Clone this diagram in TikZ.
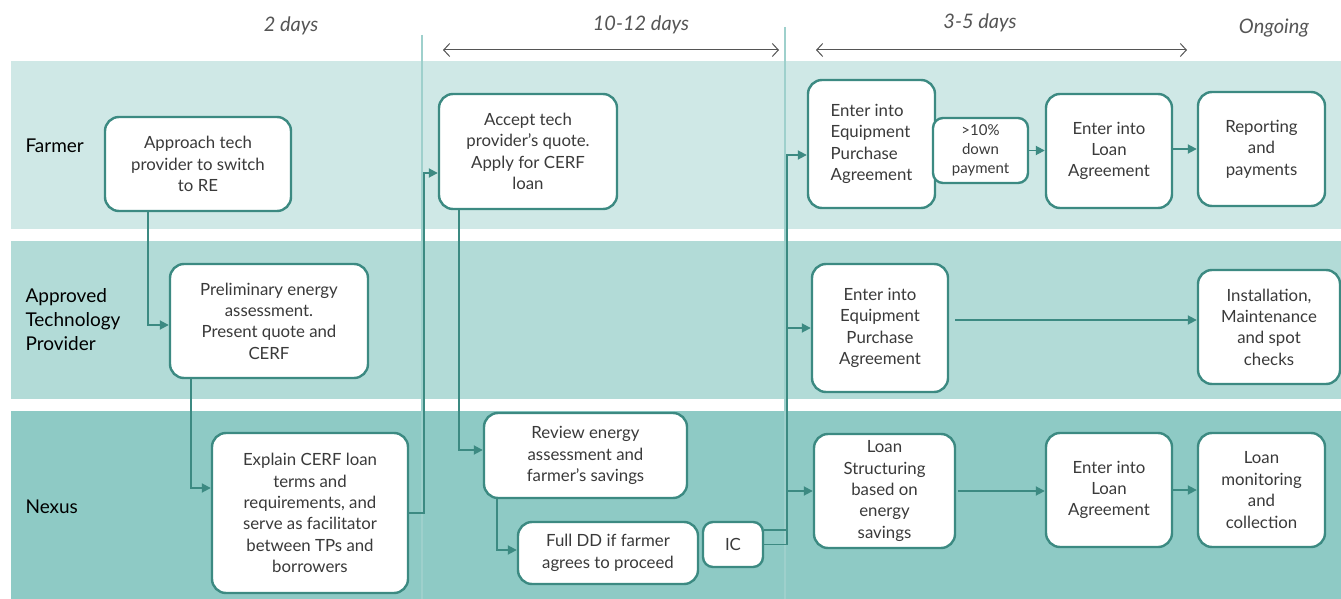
\documentclass[tikz,border=0pt]{standalone}
\usepackage{fontspec}
\setmainfont{Lato}
\usetikzlibrary{arrows.meta,calc}
\definecolor{bandA}{HTML}{CFE8E6}
\definecolor{bandB}{HTML}{B2DBD7}
\definecolor{bandC}{HTML}{8ECAC5}
\definecolor{teal}{HTML}{3C8A82}
\definecolor{divider}{HTML}{9ED0CC}
\definecolor{txt}{HTML}{3A3A3A}
\definecolor{hdr}{HTML}{555555}
\tikzset{
  box/.style={draw=teal, line width=2.4pt, fill=white, rounded corners=14pt,
    inner sep=0pt, align=center, text=txt, font=\fontsize{16.8}{21.4}\selectfont},
  smallbox/.style={box, rounded corners=10pt, font=\fontsize{15}{19}\selectfont},
  conn/.style={draw=teal, line width=1.8pt, -{Triangle[length=9pt,width=9pt]}},
  plain/.style={draw=teal, line width=1.8pt},
  lane/.style={anchor=west, align=left, text=black, font=\fontsize{19}{24}\selectfont},
  hdrtext/.style={text=hdr, font=\fontsize{20}{22}\selectfont\itshape},
  span/.style={draw=hdr, line width=1pt, {Straight Barb[length=6pt,width=13pt]}-{Straight Barb[length=6pt,width=13pt]}}
}
\begin{document}
\begin{tikzpicture}[x=1pt,y=-1pt]
\useasboundingbox (0,0) rectangle (1341,599);
\fill[white] (0,0) rectangle (1341,599);
% bands
\fill[bandA] (11,61) rectangle (1341,229);
\fill[bandB] (11,241) rectangle (1341,399);
\fill[bandC] (11,411) rectangle (1341,599);
% dividers
\draw[divider, line width=1.5pt] (422,35) -- (422,599);
\draw[divider, line width=1.5pt] (785,27) -- (785,599);
% header
\node[hdrtext] (h1) at (291,26) {2 days};
\node[hdrtext] (h2) at (641,25) {10-12 days};
\node[hdrtext] (h3) at (980,23) {3-5 days};
\node[hdrtext] (h4) at (1274,28) {Ongoing};
\coordinate (s1a) at (443,50); \coordinate (s1b) at (779,50);
\coordinate (s2a) at (816,50); \coordinate (s2b) at (1187,50);
\draw[span] (s1a) -- (s1b);
\draw[span] (s2a) -- (s2b);
% lane labels
\node[lane] (lf) at (22,146) {Farmer};
\node[lane] (la) at (22,320) {Approved\\Technology\\Provider};
\node[lane] (ln) at (22,507) {Nexus};
% nodes
\node[box, minimum width=186pt, minimum height=94pt] (approach) at (198,164) {Approach tech\\provider to switch\\to RE};
\node[box, minimum width=198pt, minimum height=114pt] (prelim) at (269,321) {Preliminary energy\\assessment.\\Present quote and\\CERF};
\node[box, minimum width=196pt, minimum height=160pt] (explain) at (310,513) {Explain CERF loan\\terms and\\requirements, and\\serve as facilitator\\between TPs and\\borrowers};
\node[box, minimum width=178pt, minimum height=115pt] (accept) at (528,151.5) {Accept tech\\provider’s quote.\\Apply for CERF\\loan};
\node[box, minimum width=203pt, minimum height=85pt] (review) at (585.5,455.5) {Review energy\\assessment and\\farmer’s savings};
\node[box, minimum width=180pt, minimum height=62pt] (fulldd) at (608,553) {Full DD if farmer\\agrees to proceed};
\node[box, rounded corners=10pt, minimum width=60pt, minimum height=45pt] (ic) at (733,544.5) {IC};
\node[box, align=left, minimum width=127pt, minimum height=128pt] (fepa) at (871.5,144) {Enter into\\Equipment\\Purchase\\Agreement};
\node[smallbox, minimum width=95pt, minimum height=65pt] (down) at (980.5,150.5) {>10\%\\down\\payment};
\node[box, minimum width=126pt, minimum height=114pt] (floan) at (1109,151) {Enter into\\Loan\\Agreement};
\node[box, minimum width=127pt, minimum height=114pt] (report) at (1261.5,149) {Reporting\\and\\payments};
\node[box, minimum width=136pt, minimum height=128pt] (aepa) at (880,328) {Enter into\\Equipment\\Purchase\\Agreement};
\node[box, minimum width=142pt, minimum height=114pt] (install) at (1269,327) {Installation,\\Maintenance\\and spot\\checks};
\node[box, minimum width=141pt, minimum height=114pt] (lstruct) at (884.5,491) {Loan\\Structuring\\based on\\energy\\savings};
\node[box, minimum width=126pt, minimum height=114pt] (nloan) at (1109,490) {Enter into\\Loan\\Agreement};
\node[box, minimum width=127pt, minimum height=114pt] (monitor) at (1261.5,490) {Loan\\monitoring\\and\\collection};
% connectors
\draw[conn] ([xshift=44pt]approach.south west) |- ([yshift=-4pt]prelim.west);
\draw[conn] ([xshift=22pt]prelim.south west) |- ([yshift=25pt]explain.west);
\draw[conn] (explain.east) -- ++(15,0) |- ([yshift=-21.5pt]accept.west);
\draw[conn] ([xshift=21pt]accept.south west) |- ([yshift=5.5pt]review.west);
\draw[conn] ([xshift=14pt]review.south west) |- ([yshift=3pt]fulldd.west);
\coordinate (bus) at ($(ic.east)+(23,0)$);
\draw[plain] (ic.east) -- (bus);
\draw[plain] ([yshift=14.5pt]ic.east) -- ++(23,0);
\draw[conn] (bus) |- ([yshift=-11pt]fepa.west);
\draw[conn] (bus) |- (aepa.west);
\draw[conn] (bus) |- (lstruct.west);
\draw[conn] (down.east) -- (floan.west |- down.east);
\draw[conn] ([yshift=2pt]floan.east) -- ([yshift=2pt]floan.east -| report.west);
\draw[conn] ([xshift=6pt,yshift=8pt]aepa.east) -- ([yshift=7pt]install.west);
\draw[conn] ([xshift=2pt]lstruct.east) -- (nloan.west |- lstruct.east);
\draw[conn] (nloan.east) -- (monitor.west);
\end{tikzpicture}
\end{document}
